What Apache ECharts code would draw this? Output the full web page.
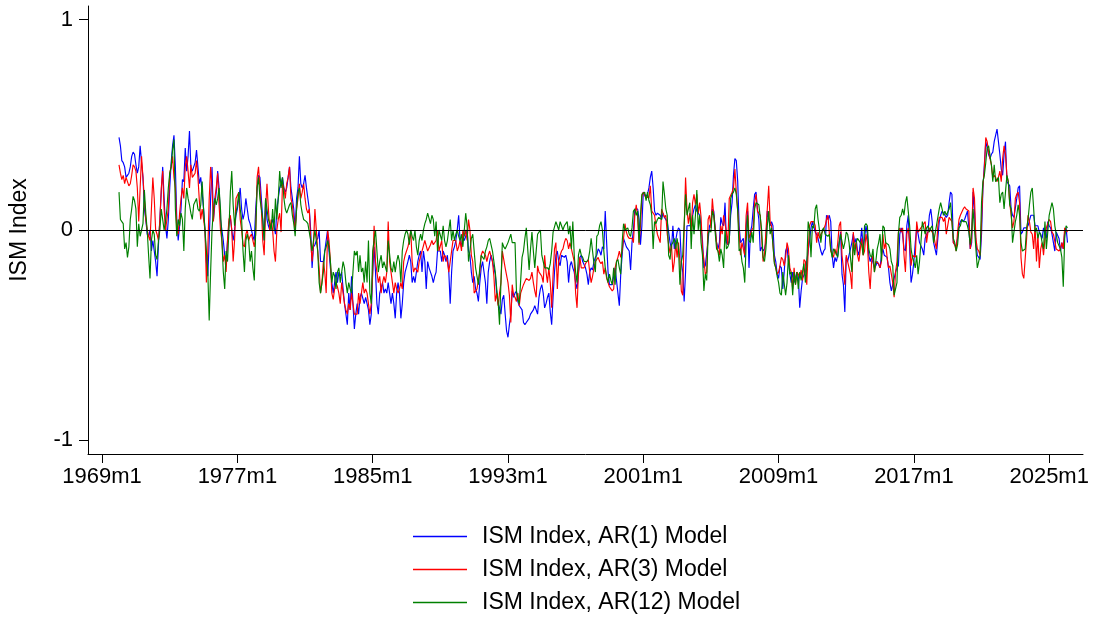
<!DOCTYPE html>
<html>
<head>
<meta charset="utf-8">
<script src="https://cdn.jsdelivr.net/npm/echarts@6/dist/echarts.min.js"></script>
<style>html,body{margin:0;padding:0;background:#fff}#c{width:1093px;height:617px}</style>
</head>
<body>
<div id="c"></div>
<script>
// months counted from 1960m1 (Stata %tm); first observation is 1970m1
const startMonth = 120;
const xTickValues = [108, 204, 300, 396, 492, 588, 684, 780];
const xTickLabels = ['1969m1','1977m1','1985m1','1993m1','2001m1','2009m1','2017m1','2025m1'];
const yTickValues = [-1, 0, 1];
const yTickLabels = ['-1', '0', '1'];
const seriesNames = ['ISM Index, AR(1) Model', 'ISM Index, AR(3) Model', 'ISM Index, AR(12) Model'];

const ar1 = [
0.44,0.40,0.33,0.32,0.30,0.25,0.26,0.27,0.30,0.35,0.37,0.36,
0.31,0.27,0.30,0.40,0.32,0.25,0.10,0.05,-0.02,-0.03,0.00,-0.10,
-0.05,-0.10,-0.15,-0.22,-0.07,0.05,0.18,0.30,0.15,0.02,-0.04,0.05,
0.20,0.32,0.40,0.45,0.30,0.05,-0.05,0.02,0.10,0.24,0.23,0.39,
0.28,0.35,0.47,0.30,0.28,0.30,0.32,0.38,0.30,0.22,0.25,0.25,
0.10,0.00,-0.15,-0.22,-0.05,0.15,0.30,0.05,0.12,0.18,0.28,0.20,
0.05,0.00,-0.05,-0.12,-0.15,-0.05,0.03,0.06,0.00,-0.05,0.00,0.07,
0.10,0.15,0.20,0.10,0.05,0.08,0.15,0.10,0.05,0.03,0.00,-0.03,
-0.05,0.10,0.20,0.26,0.25,0.15,0.05,-0.05,0.15,0.05,0.02,0.00,
0.00,0.05,0.02,-0.02,0.10,0.15,0.20,0.22,0.25,0.20,0.18,0.20,
0.25,0.30,0.20,0.15,0.10,0.00,0.15,0.20,0.35,0.22,0.20,0.22,
0.26,0.20,0.20,0.10,0.00,-0.18,-0.08,-0.07,-0.05,-0.04,0.00,-0.15,
-0.15,-0.15,-0.10,-0.05,0.00,-0.10,-0.18,-0.25,-0.30,-0.25,-0.20,-0.25,
-0.20,-0.22,-0.20,-0.28,-0.35,-0.40,-0.45,-0.30,-0.38,-0.22,-0.35,-0.47,
-0.40,-0.35,-0.40,-0.32,-0.30,-0.30,-0.35,-0.32,-0.35,-0.38,-0.45,-0.40,
-0.20,-0.08,-0.20,-0.35,-0.40,-0.30,-0.30,-0.25,-0.30,-0.28,-0.30,-0.25,
-0.25,-0.35,-0.30,-0.35,-0.42,-0.30,-0.25,-0.30,-0.42,-0.35,-0.25,-0.20,
-0.20,-0.15,-0.12,-0.15,-0.25,-0.22,-0.25,-0.25,-0.15,-0.12,-0.10,-0.20,
-0.10,-0.15,-0.28,-0.15,-0.18,-0.20,-0.22,-0.25,-0.22,-0.20,-0.10,-0.10,
-0.10,-0.15,-0.10,-0.12,-0.15,-0.12,-0.20,-0.35,-0.20,-0.10,-0.08,-0.05,
0.00,0.07,-0.05,-0.08,-0.03,-0.05,-0.03,0.00,-0.10,-0.12,-0.20,-0.25,
-0.22,-0.28,-0.30,-0.34,-0.25,-0.18,-0.15,-0.15,-0.25,-0.35,-0.20,-0.15,
-0.12,-0.15,-0.18,-0.21,-0.30,-0.35,-0.37,-0.40,-0.33,-0.31,-0.40,-0.48,
-0.51,-0.45,-0.40,-0.29,-0.32,-0.30,-0.29,-0.34,-0.36,-0.36,-0.38,-0.44,
-0.45,-0.44,-0.44,-0.42,-0.40,-0.40,-0.38,-0.36,-0.38,-0.40,-0.32,-0.28,
-0.26,-0.30,-0.37,-0.35,-0.32,-0.30,-0.39,-0.45,-0.32,-0.20,-0.12,-0.10,
-0.15,-0.17,-0.12,-0.12,-0.13,-0.12,-0.15,-0.25,-0.17,-0.15,-0.18,-0.20,
-0.25,-0.28,-0.21,-0.13,-0.12,-0.15,-0.15,-0.18,-0.21,-0.26,-0.20,-0.18,
-0.19,-0.15,-0.13,-0.12,-0.09,-0.10,-0.12,-0.08,-0.09,0.09,-0.06,-0.20,
-0.26,-0.26,-0.26,-0.22,-0.18,-0.18,-0.30,-0.36,-0.21,-0.12,-0.04,-0.06,
-0.08,-0.09,-0.10,-0.19,-0.06,0.00,0.10,0.10,0.10,0.05,-0.07,0.02,
0.18,0.17,0.16,0.17,0.20,0.25,0.28,0.20,0.09,0.07,0.08,0.08,
0.07,0.05,0.08,0.06,0.06,0.04,-0.01,-0.06,-0.09,0.02,-0.09,-0.05,
-0.01,0.01,0.00,-0.15,-0.20,-0.34,-0.20,0.02,0.02,0.02,0.03,0.07,
0.10,0.12,0.09,0.08,0.07,0.02,-0.05,-0.18,-0.17,-0.17,-0.05,0.02,
0.03,0.10,0.09,0.01,-0.06,-0.09,-0.06,0.06,0.03,0.02,0.13,-0.06,
-0.07,-0.05,0.07,0.13,0.26,0.34,0.33,0.23,0.02,-0.06,-0.05,-0.04,
-0.13,0.02,0.09,-0.18,-0.01,0.02,0.10,0.17,0.18,0.10,0.05,-0.10,
-0.08,-0.10,-0.09,-0.06,0.09,0.09,0.02,0.04,0.02,-0.12,-0.15,-0.21,
-0.23,-0.17,-0.18,-0.28,-0.20,-0.10,-0.08,-0.15,-0.21,-0.25,-0.20,-0.25,
-0.25,-0.20,-0.22,-0.37,-0.29,-0.23,-0.23,-0.20,-0.15,-0.10,-0.05,0.01,
0.04,0.04,-0.01,-0.02,-0.04,-0.07,-0.10,-0.12,-0.10,-0.09,0.07,0.05,
0.07,0.04,-0.12,-0.18,-0.13,-0.15,-0.12,-0.06,-0.01,-0.21,-0.26,-0.39,
-0.13,-0.15,-0.12,-0.09,-0.06,-0.02,-0.06,-0.04,-0.10,-0.12,-0.06,0.01,
-0.09,-0.04,0.02,-0.02,-0.12,-0.15,-0.13,-0.13,-0.18,-0.17,-0.15,-0.15,
-0.18,-0.12,-0.09,-0.12,-0.12,-0.13,-0.18,-0.25,-0.29,-0.26,-0.23,-0.20,
-0.18,-0.17,-0.02,0.01,-0.02,-0.09,-0.10,0.02,0.07,-0.09,-0.25,-0.21,
-0.15,-0.06,0.01,-0.02,-0.06,-0.06,-0.09,-0.12,-0.04,-0.02,-0.01,0.07,
0.10,0.04,-0.06,-0.09,-0.12,-0.04,0.04,0.07,0.09,0.09,0.07,0.06,
0.07,0.13,0.18,0.17,-0.06,-0.07,-0.08,-0.04,0.02,0.04,0.05,0.04,
0.05,0.07,0.09,0.01,-0.09,-0.06,0.18,0.09,-0.06,-0.12,-0.13,-0.14,
-0.02,0.20,0.31,0.42,0.39,0.36,0.34,0.36,0.37,0.42,0.45,0.48,
0.42,0.36,0.29,0.26,0.36,0.42,0.23,0.23,0.21,0.10,0.07,0.06,
0.06,0.15,0.20,0.21,-0.02,-0.01,0.01,0.01,0.01,0.02,0.02,0.07,
0.07,0.07,0.02,0.02,0.02,-0.01,-0.01,-0.04,0.01,-0.02,-0.04,0.04,
0.02,0.01,-0.02,-0.06,-0.10,-0.01,-0.01,-0.04,-0.10,-0.06,-0.09,-0.01,
0.01,-0.06
];

const ar3 = [
0.31,0.27,0.24,0.26,0.22,0.25,0.23,0.21,0.22,0.26,0.31,0.30,
0.28,0.20,0.04,0.20,0.35,0.25,0.15,0.05,0.00,-0.03,-0.05,0.10,
0.25,0.15,0.00,-0.02,-0.05,0.05,0.20,0.28,0.10,0.00,0.05,0.10,
0.27,0.30,0.35,0.25,0.20,0.00,-0.02,0.08,0.15,0.20,0.15,0.30,
0.35,0.28,0.20,0.31,0.25,0.26,0.27,0.33,0.25,0.14,0.05,0.10,
0.05,0.00,-0.25,-0.10,0.15,0.30,0.20,0.04,0.15,0.20,0.27,0.12,
0.00,-0.05,-0.15,-0.12,-0.20,-0.05,0.05,0.07,0.00,-0.15,-0.05,0.15,
0.15,0.18,0.05,0.00,-0.07,-0.08,-0.02,0.00,-0.05,-0.03,-0.02,-0.05,
-0.08,-0.02,0.25,0.30,0.20,0.10,-0.05,-0.12,0.10,0.22,0.10,0.00,
0.05,0.00,-0.10,-0.15,0.00,0.05,0.08,-0.01,0.22,0.20,0.15,0.22,
0.25,0.30,0.15,0.12,0.05,0.00,0.10,0.15,0.22,0.15,0.18,0.22,
0.15,0.10,0.08,0.10,-0.05,-0.15,-0.07,0.10,0.00,-0.10,-0.18,-0.30,
-0.25,-0.15,-0.20,-0.30,0.00,-0.05,-0.15,-0.30,-0.33,-0.28,-0.25,-0.27,
-0.30,-0.35,-0.25,-0.30,-0.35,-0.38,-0.40,-0.35,-0.38,-0.30,-0.35,-0.40,
-0.40,-0.40,-0.30,-0.35,-0.30,-0.25,-0.30,-0.28,-0.30,-0.35,-0.40,-0.35,
-0.20,0.02,-0.15,-0.20,-0.25,-0.22,-0.30,-0.25,-0.22,-0.25,-0.20,0.04,
-0.15,-0.20,-0.25,-0.30,-0.25,-0.28,-0.30,-0.28,-0.25,-0.28,-0.15,-0.12,
-0.10,-0.08,-0.05,0.00,-0.15,-0.20,-0.18,-0.18,-0.20,-0.15,-0.15,-0.10,
-0.10,-0.05,-0.05,-0.10,-0.10,-0.07,-0.05,-0.07,-0.07,-0.05,0.00,-0.10,
-0.10,-0.05,-0.15,-0.12,-0.13,-0.15,-0.20,-0.15,-0.10,-0.05,-0.05,-0.05,
-0.10,-0.08,-0.05,-0.10,0.00,-0.03,0.00,-0.05,0.05,0.00,-0.12,-0.15,
-0.30,-0.30,-0.28,-0.28,-0.20,-0.12,-0.10,-0.10,-0.12,-0.15,-0.12,-0.10,
-0.10,-0.15,-0.22,-0.34,-0.30,-0.36,-0.30,-0.25,-0.10,-0.10,-0.18,-0.18,
-0.25,-0.31,-0.44,-0.26,-0.31,-0.32,-0.34,-0.30,-0.36,-0.30,-0.28,-0.26,
-0.26,-0.23,-0.23,-0.24,-0.23,-0.20,-0.25,-0.29,-0.32,-0.17,-0.20,-0.21,
-0.22,-0.25,-0.12,-0.20,-0.25,-0.18,-0.25,-0.37,-0.21,-0.09,-0.06,-0.28,
-0.15,-0.12,-0.10,-0.09,-0.06,-0.04,-0.05,-0.09,-0.06,-0.09,-0.12,-0.15,
-0.30,-0.37,-0.20,-0.13,-0.18,-0.18,-0.18,-0.16,-0.15,-0.14,-0.20,-0.25,
-0.22,-0.18,-0.15,-0.14,-0.13,-0.15,-0.16,-0.15,-0.21,-0.18,-0.23,-0.25,
-0.27,-0.28,-0.29,-0.28,-0.18,-0.15,-0.13,-0.10,-0.13,-0.10,-0.04,0.03,
-0.01,-0.03,-0.04,-0.04,-0.04,-0.06,0.07,0.12,0.06,-0.07,0.02,0.16,
0.18,0.18,0.15,0.16,0.15,0.21,0.09,0.09,0.07,0.02,-0.02,-0.04,
-0.06,0.10,0.08,0.06,0.07,-0.02,-0.07,-0.11,-0.07,-0.20,-0.15,-0.06,
-0.13,-0.06,-0.15,-0.29,-0.31,0.00,0.25,0.10,0.03,0.08,0.00,0.13,
0.17,0.12,0.17,0.08,0.13,0.06,-0.09,-0.14,-0.21,-0.20,0.05,0.07,
0.01,0.15,0.07,0.01,-0.06,-0.10,-0.12,0.02,-0.02,0.07,0.03,-0.01,
-0.07,0.15,0.15,0.18,0.20,0.29,0.18,0.09,-0.01,-0.12,-0.06,-0.06,
-0.12,0.07,0.13,-0.04,-0.04,0.00,0.01,0.13,0.17,0.09,0.09,0.07,
0.07,-0.15,-0.12,-0.01,0.10,0.21,0.04,0.02,-0.07,-0.15,-0.18,-0.21,
-0.20,-0.17,-0.13,-0.14,-0.17,-0.13,-0.06,-0.09,-0.18,-0.20,-0.28,-0.18,
-0.26,-0.20,-0.21,-0.23,-0.19,-0.24,-0.14,-0.15,-0.26,-0.10,0.02,0.04,
0.04,0.04,0.02,-0.06,-0.01,-0.04,-0.02,-0.01,-0.01,0.02,0.05,0.07,
0.07,-0.10,-0.10,-0.13,-0.09,-0.12,-0.06,0.02,0.04,-0.12,-0.18,-0.26,
-0.12,-0.15,-0.18,-0.21,-0.28,-0.01,-0.09,-0.06,-0.12,-0.15,-0.09,-0.04,
-0.12,-0.10,-0.02,-0.06,-0.20,-0.28,-0.15,-0.12,-0.20,-0.15,-0.15,-0.16,
-0.18,-0.15,-0.02,-0.09,-0.06,-0.13,-0.18,-0.17,-0.21,-0.25,-0.32,-0.20,
-0.15,-0.01,0.01,-0.01,0.01,-0.12,-0.20,-0.02,0.01,-0.06,-0.17,-0.12,
-0.12,-0.13,0.04,-0.01,-0.01,0.01,0.02,0.02,0.04,-0.06,-0.01,0.01,
0.01,-0.01,-0.02,-0.06,-0.09,0.02,0.06,0.06,0.06,0.04,0.06,-0.02,
0.02,0.06,0.06,0.04,-0.06,-0.07,-0.10,-0.01,0.05,0.07,0.07,0.10,
0.11,0.10,0.10,0.09,-0.09,-0.04,0.20,0.15,-0.04,-0.09,-0.10,-0.12,
0.04,0.21,0.29,0.44,0.42,0.37,0.37,0.31,0.25,0.26,0.25,0.23,
0.25,0.28,0.23,0.34,0.40,0.36,0.26,0.23,0.13,0.07,0.01,0.04,
0.15,0.17,0.18,0.13,-0.13,-0.21,-0.23,-0.23,-0.04,0.07,0.04,-0.01,
-0.02,-0.09,0.02,-0.15,-0.02,-0.18,-0.09,-0.06,-0.12,-0.04,0.01,0.01,
0.05,0.04,-0.01,-0.02,-0.02,-0.09,-0.09,-0.10,-0.09,-0.06,-0.09,0.01,
0.01,-0.01
];

const ar12 = [
0.18,0.05,0.04,0.03,-0.09,-0.06,-0.13,-0.08,0.05,0.10,0.16,0.14,
0.10,-0.08,0.03,-0.03,0.00,0.03,0.19,0.08,0.00,-0.12,-0.23,-0.05,
0.00,-0.02,-0.12,-0.14,-0.05,0.00,0.10,0.05,0.00,0.04,0.10,0.20,
0.27,0.30,0.38,0.43,0.10,-0.03,0.05,0.02,0.08,0.05,-0.10,0.10,
0.20,0.15,0.12,0.08,0.05,0.12,0.12,0.15,0.10,0.09,0.12,0.23,
0.10,0.00,-0.10,-0.20,-0.43,-0.20,0.00,0.10,0.15,0.12,0.15,0.20,
0.10,-0.05,-0.20,-0.28,-0.10,-0.15,0.00,0.18,0.28,0.12,0.02,0.08,
0.12,0.18,0.10,0.05,-0.10,-0.20,-0.05,-0.02,-0.05,-0.15,-0.10,-0.18,
-0.24,0.00,0.20,0.25,0.15,0.10,0.05,-0.05,0.15,0.10,0.05,0.03,
0.00,0.10,0.00,0.15,0.05,0.15,0.28,0.20,0.25,0.15,0.10,0.08,
0.08,0.12,0.13,0.07,0.03,-0.03,0.10,0.18,0.20,0.12,0.08,0.05,
0.05,0.04,0.03,0.03,-0.05,-0.10,-0.10,0.00,-0.05,-0.10,-0.25,-0.30,
-0.30,-0.20,-0.10,-0.08,-0.05,-0.08,-0.15,-0.25,-0.20,-0.22,-0.28,-0.20,
-0.18,-0.25,-0.20,-0.15,-0.18,-0.25,-0.30,-0.25,-0.28,-0.30,-0.20,-0.10,
-0.12,-0.10,-0.20,-0.12,-0.20,-0.18,-0.25,-0.15,-0.25,-0.05,-0.30,-0.35,
-0.10,-0.05,0.00,-0.10,-0.20,-0.15,-0.12,-0.18,-0.15,-0.15,-0.20,-0.05,
-0.05,-0.18,-0.20,-0.15,-0.20,-0.15,-0.12,-0.15,-0.25,-0.10,-0.05,-0.02,
0.00,-0.02,-0.07,0.00,-0.03,-0.05,0.00,-0.08,-0.12,-0.05,-0.02,-0.05,
0.00,0.03,0.05,0.08,0.08,0.03,0.07,0.05,-0.03,0.04,-0.10,0.00,
0.00,-0.05,0.02,-0.05,-0.08,-0.05,0.00,0.05,-0.05,0.00,-0.05,-0.02,
0.00,-0.03,-0.05,-0.02,-0.08,0.00,0.08,0.02,-0.15,-0.10,-0.04,-0.02,
-0.10,-0.18,-0.22,-0.26,-0.18,-0.12,-0.12,-0.14,-0.10,-0.08,-0.05,-0.04,
-0.04,-0.10,-0.15,-0.20,-0.28,-0.34,-0.45,-0.25,-0.06,-0.08,-0.09,-0.09,
-0.06,-0.04,-0.02,-0.06,-0.06,-0.06,-0.29,-0.33,-0.35,-0.35,-0.13,-0.10,
-0.04,0.01,-0.09,-0.19,-0.09,-0.01,-0.10,-0.18,-0.18,-0.02,-0.01,0.00,
-0.12,-0.15,-0.18,-0.18,-0.18,-0.19,-0.16,-0.10,-0.01,-0.01,0.04,0.02,
0.00,0.04,0.02,0.00,0.02,0.03,0.04,-0.02,0.02,-0.09,0.04,-0.12,
-0.20,-0.25,-0.12,-0.09,-0.12,-0.13,-0.15,-0.15,-0.15,-0.14,-0.10,-0.04,
-0.10,-0.16,-0.20,-0.03,-0.02,0.02,0.04,0.00,-0.10,-0.18,-0.22,-0.25,
-0.21,-0.24,-0.26,-0.18,-0.26,-0.15,-0.14,-0.18,-0.21,-0.06,0.03,0.00,
0.00,0.01,-0.02,-0.03,0.01,0.09,0.10,0.07,0.09,-0.06,0.07,0.17,
0.17,0.18,0.14,0.18,0.14,0.12,0.07,-0.09,0.04,0.03,0.05,0.06,
0.06,0.05,0.23,0.17,0.10,0.07,-0.12,-0.14,-0.07,-0.06,-0.04,-0.09,
-0.04,-0.09,-0.26,-0.15,-0.12,-0.12,0.17,0.07,0.07,0.13,-0.09,0.07,
-0.02,0.07,0.19,0.00,0.07,-0.06,-0.12,-0.29,-0.21,-0.24,-0.02,0.00,
-0.01,0.09,0.07,-0.01,-0.09,-0.10,-0.15,-0.09,-0.12,-0.18,0.00,-0.09,
-0.08,-0.06,0.15,0.17,0.18,0.20,0.17,0.09,-0.10,-0.09,-0.15,-0.18,
-0.25,-0.06,0.07,-0.05,-0.06,-0.01,-0.06,0.10,0.13,0.13,0.12,0.06,
0.00,-0.13,-0.15,-0.09,0.02,0.09,-0.02,0.01,-0.07,-0.16,-0.18,-0.22,
-0.25,-0.30,-0.31,-0.20,-0.20,-0.31,-0.25,-0.12,-0.21,-0.20,-0.31,-0.20,
-0.26,-0.20,-0.28,-0.20,-0.24,-0.20,-0.16,-0.25,-0.17,0.04,0.00,-0.13,
0.02,0.01,0.10,0.12,0.05,0.00,-0.06,0.00,0.01,-0.02,-0.02,-0.03,
-0.02,-0.09,-0.13,-0.09,-0.10,-0.10,-0.13,-0.06,-0.02,-0.02,-0.09,-0.06,
-0.01,-0.02,-0.06,-0.13,-0.20,-0.06,-0.12,-0.06,-0.04,-0.04,-0.06,-0.07,
-0.12,0.02,0.03,0.02,-0.09,-0.12,-0.13,-0.09,-0.20,-0.15,-0.09,-0.06,
-0.02,-0.15,0.02,0.01,-0.06,-0.06,-0.07,-0.09,-0.15,-0.17,-0.31,-0.28,
-0.25,-0.02,0.06,0.07,0.10,0.07,0.13,0.16,0.09,0.02,-0.09,-0.13,
-0.15,-0.18,-0.12,-0.21,-0.15,-0.06,0.04,0.04,-0.02,0.01,0.02,-0.01,
0.01,0.02,-0.06,-0.02,0.02,0.06,0.10,0.13,0.10,0.07,0.09,0.07,
0.07,0.10,0.13,0.04,-0.04,-0.06,-0.10,-0.07,0.01,0.02,0.05,0.04,
0.04,0.04,0.02,-0.01,-0.07,-0.01,0.10,0.10,-0.09,-0.18,-0.18,-0.12,
0.13,0.23,0.26,0.32,0.39,0.40,0.40,0.31,0.23,0.31,0.23,0.23,
0.25,0.13,0.17,0.18,0.10,0.18,0.26,0.23,0.12,0.10,-0.06,-0.01,
0.04,0.07,0.12,0.07,-0.06,-0.10,-0.10,-0.09,0.01,0.05,0.12,0.18,
0.20,0.10,-0.01,0.01,-0.04,-0.01,-0.02,-0.06,-0.09,0.04,-0.09,-0.01,
0.07,0.10,0.13,0.10,0.02,0.02,-0.06,-0.06,-0.09,-0.13,-0.27,-0.04,
0.02,0.01
];

const seriesColors = ['#0000ff', '#ff0000', '#008000'];
const seriesValues = [ar1, ar3, ar12];
const FONT = '"Liberation Sans", Arial, Helvetica, sans-serif';

const chart = echarts.init(document.getElementById('c'), null, { renderer: 'canvas' });

const series = seriesValues.map((vals, k) => {
  const s = {
    name: seriesNames[k],
    type: 'line',
    data: vals.map((v, i) => [startMonth + i, v]),
    showSymbol: false,
    symbol: 'none',
    sampling: null,
    animation: false,
    silent: true,
    color: seriesColors[k],
    lineStyle: { width: 1.15, color: seriesColors[k] },
    z: 2 + k
  };
  if (k === 0) {
    s.markLine = {
      silent: true,
      symbol: ['none', 'none'],
      label: { show: false },
      lineStyle: { color: '#000', width: 1, type: 'solid' },
      data: [{ yAxis: 0 }],
      animation: false
    };
  }
  return s;
});

chart.setOption({
  animation: false,
  backgroundColor: '#fff',
  textStyle: { fontFamily: FONT, color: '#000' },
  grid: { left: 87, right: 10, top: 6, bottom: 163, containLabel: false },
  xAxis: {
    type: 'value',
    min: 98,
    max: 804,
    splitLine: { show: false },
    axisLine: { show: true, onZero: false, lineStyle: { color: '#000', width: 1 } },
    axisTick: { show: true, length: 9, lineStyle: { color: '#000', width: 1 }, customValues: xTickValues },
    axisLabel: {
      customValues: xTickValues,
      margin: 12,
      fontSize: 22,
      fontFamily: FONT,
      color: '#000',
      formatter: v => { const i = xTickValues.indexOf(Math.round(v)); return i >= 0 ? xTickLabels[i] : ''; }
    }
  },
  yAxis: {
    type: 'value',
    min: -1.065,
    max: 1.065,
    name: 'ISM Index',
    nameLocation: 'middle',
    nameRotate: 90,
    nameGap: 57,
    nameTextStyle: { fontSize: 23, fontFamily: FONT, color: '#000' },
    splitLine: { show: false },
    axisLine: { show: true, onZero: false, lineStyle: { color: '#000', width: 1 } },
    axisTick: { show: true, length: 9, lineStyle: { color: '#000', width: 1 }, customValues: yTickValues },
    axisLabel: {
      customValues: yTickValues,
      margin: 15,
      fontSize: 22,
      fontFamily: FONT,
      color: '#000',
      formatter: v => { const i = yTickValues.findIndex(t => Math.abs(t - v) < 1e-9); return i >= 0 ? yTickLabels[i] : ''; }
    }
  },
  legend: {
    data: seriesNames,
    orient: 'vertical',
    left: 413,
    top: 525,
    padding: 0,
    itemGap: 10,
    itemWidth: 54,
    itemHeight: 1.5,
    icon: 'rect',
    selectedMode: false,
    textStyle: { fontSize: 23, fontFamily: FONT, color: '#000', lineHeight: 23, padding: [0, 0, 0, 10] }
  },
  series: series
});
</script>
</body>
</html>
